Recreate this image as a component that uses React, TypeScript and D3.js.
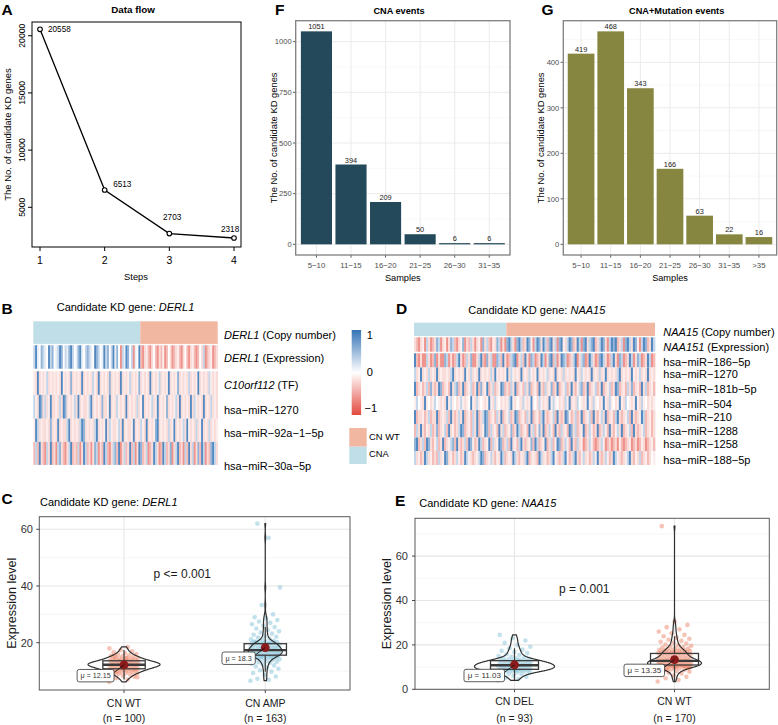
import React from 'react';
import * as d3 from 'd3';

const FONT = "'Liberation Sans', Arial, Helvetica, sans-serif";

// ---------------- Panel A data ----------------
const steps = [1, 2, 3, 4];
const candidateCounts = [20558, 6513, 2703, 2318];
const stepTicks = [1, 2, 3, 4];
const countTicks = [5000, 10000, 15000, 20000];

// ---------------- Panel F / G data ----------------
const cnaBins = ['5−10', '11−15', '16−20', '21−25', '26−30', '31−35'];
const cnaCounts = [1051, 394, 209, 50, 6, 6];
const cnaTicks = [0, 250, 500, 750, 1000];
const mutBins = ['5−10', '11−15', '16−20', '21−25', '26−30', '31−35', '>35'];
const mutCounts = [419, 468, 343, 166, 63, 22, 16];
const mutTicks = [0, 100, 200, 300, 400];

// ---------------- Heatmap data (coded: B strong blue ... R strong red) ----------------
const codeVal: Record<string, number> = { S: -0.85, R: -0.6, r: -0.38, p: -0.2, q: -0.1, '.': 0, d: 0.12, c: 0.3, b: 0.55, B: 0.85 };

const derl1Groups = { cna: 58, wt: 42 };
const derl1Rows = [
  { gene: 'DERL1', rest: ' (Expression)', codes: 'cBd.bcd.Bcb.dcBb.cdbBc.dbBd.cbcd.Bbc.dBcb.cBdb.RcdBb.cRd.B' + 'rRpqrRp.rRprqRr.pRrpqrRp.rRpqrRr.pcRrpqRrp' },
  { gene: 'C10orf112', rest: ' (TF)', codes: 'qpBpqpqcpqpqpqpBqpqpbpqpqpBpqpqpcqpBpqpqpbpqpqpBpqpqcpqpqbpqpqpBpqpqcpqpqBpqpqbpqpqpcpqpqBpqpqpcqpqp' },
  { gene: '', rest: 'hsa−miR−1270', codes: 'cqpBbpcpqBppqpcpBbpqpqcpBpqppqcBpqpqpbppqBpqpcqpqpBpqpqpcpqBpqpqcpqBpqpqbpqpqcpBpqpqpBpcqpqpBpqpcpqp' },
  { gene: '', rest: 'hsa−miR−92a−1−5p', codes: 'qBcpqppqpbpqpBpqppcBpqpqpcBbpqpqpcBpqpqBpcqppqcpBpqppqBpqpcqpBpqpqbBpqpqpcpqBpqpqcpBqpqpcpqBpqpcpqpq' },
  { gene: '', rest: 'hsa−miR−30a−5p', codes: 'rcrBprRcpBrpRcbprRpcBrprcRpBcrpRpbcRprBcrRpcbrBRpcrpBrcRpBbrpcRrpBcpRrBcrpbRpcBrpRcrBpcRpbrBcRprbBcp' },
];

const naa15Groups = { del: 46, wt: 74 };
const naa15Rows = [
  { gene: 'NAA151', rest: ' (Expression)', codes: 'prRpqRcpRrpbcRpqRpbcrRpqbRprcpRpqRbpcrRqpbcRpR' + 'bBcpRbBcrpBbqRcBbpBcrbBpcRbBqpcBbrpBcRbBpcbBrpcBbpRcBbBrpcRbBcpBbqRcBbrpBc' },
  { gene: '', rest: 'hsa−miR−186−5p', codes: 'BrRpRRcpRrbRpRRbcRpRrcBpRrcpbRRpcBrRbpcRRbcrBpRrcbBRpcrBpRbcRrpBcRpbBrcRpBbcRrpcBRpcbRrBcpRrbBcpRrcBpRbcRrpBcRpbcRrpBcRr' },
  { gene: '', rest: 'hsa−miR−1270', codes: 'cpqBpqpcpqpBpqppqpcBpqpqpBqpcpqpBpqpqpcpBqpqpqBpcqpqpBpqpcqpqBpqpqcpqpBpqpcpqpqpBqpcqpqpBpqpcpqBpqpqpcBpqpqpBqpqcpqpBpqp' },
  { gene: '', rest: 'hsa−miR−181b−5p', codes: 'BrpqrpcrbprpBbrpqrBpcbrpBrpqcrpBrbpqBrpcrpqBbrprcpBrpqrcpbrpqrBprcpqbrpBrpqcrpBprqcbrpBrpqcrpBrpqcrpBbrpqrcpbrpqrBpcrpqr' },
  { gene: '', rest: 'hsa−miR−504', codes: 'qc.qpBq.pqc.qpqpBqcq.pqcqpq.Bqpcq.qpqBqpcq.pqpqcBqp.qpcqpqBq.pcqpqpBqcq.pqpcqBpqpc.qpqBqpcq.pqBqpcq.pqBqpc.qpqBqpcq.pqpq' },
  { gene: '', rest: 'hsa−miR−210', codes: 'BrppqrpcrppBrpqpcrBprpcpBrpqrcpBrpcBbrpqrcpBrpqcrpBbrpqrcpBrpqrcBprpqcrBprpBbqrpcrpBrpqcrBprqcpBrpqrcBprpqcrBprpqBcrpqrp' },
  { gene: '', rest: 'hsa−miR−1288', codes: 'rcpBprqpcrpbrpqcrBpqrpcBbrpqrcpBrpqBbrcpqrBpcrpqbrpBcrpqrBpcrqbpBrpcqrBprcpqrBbpcrpqBrpcqrpBrpcqrBprqcpBrpqcrBprpqcrpqrp' },
  { gene: '', rest: 'hsa−miR−1258', codes: 'bBrpcrBbprqcrpBrpqcbrBprpcrBbqrpBcrpqBrcpqBbrpcrBpqrcBprpqbrBcrpqBrpcrqBbrpcqrBprcpqRrpcqrRrpcqRrpRrpRqrRrpqRrpRrqpRrpqr' },
  { gene: '', rest: 'hsa−miR−188−5p', codes: 'cpqrpBcpqrprcpqBbpqrpcqrpBcqprpqcBbrpqcprqpBcrpqpBcprqpcBrpqprBcpqrpcBqprpcBqrpcBprqcpqrpcqBprpcqrpBcqprpqcBprqpcrpqrp.q' },
];

// ---------------- Violin data (expression levels) ----------------
const derl1WT = [6.2, 7.0, 7.5, 8.0, 8.3, 8.6, 8.8, 9.0, 9.2, 9.3, 9.5, 9.6, 9.8, 9.9, 10.0, 10.1, 10.2, 10.3, 10.4, 10.5, 10.6, 10.7, 10.8, 10.9, 11.0, 11.0, 11.1, 11.2, 11.3, 11.3, 11.4, 11.5, 11.5, 11.6, 11.7, 11.7, 11.8, 11.8, 11.9, 12.0, 12.0, 12.1, 12.1, 12.2, 12.2, 12.3, 12.3, 12.4, 12.4, 12.5, 12.5, 12.6, 12.6, 12.7, 12.7, 12.8, 12.9, 12.9, 13.0, 13.0, 13.1, 13.2, 13.2, 13.3, 13.4, 13.5, 13.5, 13.6, 13.7, 13.8, 13.9, 14.0, 14.1, 14.2, 14.3, 14.4, 14.5, 14.7, 14.9, 15.0, 15.2, 15.4, 15.6, 15.8, 16.0, 16.3, 16.6, 17.0, 17.4, 18.0, 18.5, 9.4, 10.8, 11.6, 12.2, 12.8, 13.4, 7.8, 14.6, 15.1];
const derl1AMP = [6.6, 6.9, 7.3, 8.1, 8.7, 9.3, 9.8, 10.3, 10.8, 11.2, 11.6, 12.0, 12.3, 12.6, 12.9, 13.1, 13.3, 13.5, 13.7, 13.9, 14.1, 14.2, 14.4, 14.5, 14.7, 14.8, 14.9,
  15.0, 15.1, 15.2, 15.3, 15.4, 15.5, 15.5, 15.6, 15.7, 15.8, 15.9, 16.0, 16.0, 16.1, 16.2, 16.3, 16.4, 16.5, 16.5, 16.6, 16.7, 16.8, 16.9, 17.0, 17.0, 17.1, 17.2, 17.3, 17.4, 17.5, 17.5, 17.6, 17.7, 17.7, 15.3, 15.8, 16.2, 16.6, 17.1, 17.4, 15.6, 16.9, 17.3, 16.4, 15.9, 17.6, 16.1, 17.2, 15.1, 16.7, 17.0, 16.3, 15.7, 17.5,
  17.8, 17.9, 18.0, 18.1, 18.2, 18.3, 18.4, 18.5, 18.6, 18.7, 18.8, 18.9, 19.0, 19.1, 19.2, 19.3, 19.4, 19.5, 19.6, 19.7, 19.8, 19.9, 20.0, 20.1, 20.2, 20.3, 20.4, 18.0, 18.5, 19.0, 19.5, 20.0, 18.2, 18.8, 19.3, 19.8, 17.9, 18.6, 19.2, 20.2,
  20.6, 20.9, 21.2, 21.5, 21.8, 22.1, 22.4, 22.8, 23.2, 23.6, 24.0, 24.5, 25.0, 25.5, 26.0, 26.5, 27.0, 27.5, 28.0, 28.6, 29.0, 30.0, 33.3, 39.5, 57.0, 62.0];
const naa15DEL = [4.0, 4.6, 5.2, 5.7, 6.1, 6.5, 6.8, 7.1, 7.4, 7.6, 7.8, 8.0, 8.2, 8.3, 8.4, 8.5, 8.6, 8.7, 8.8, 8.9, 9.0, 9.1, 9.2, 9.3, 9.4, 9.5, 9.6, 9.7, 9.8, 9.9, 10.0, 10.1, 10.2, 10.3, 10.4, 10.5, 10.5, 10.6, 10.7, 10.8, 10.9, 11.0, 11.1, 11.2, 11.3, 11.4, 11.5, 11.6, 11.7, 11.8, 11.9, 12.0, 12.1, 12.2, 12.3, 12.4, 12.5, 12.6, 12.7, 12.8, 13.0, 13.2, 13.4, 13.6, 13.8, 14.0, 14.3, 14.6, 15.0, 15.4, 15.8, 16.3, 16.8, 17.3, 17.9, 18.5, 19.2, 20.0, 21.0, 22.0, 23.0, 24.5, 9.0, 10.0, 11.0, 8.6, 9.6, 10.8, 12.2, 7.9, 13.1];
const naa15WT = [3.5, 4.2, 5.0, 5.6, 6.2, 6.7, 7.1, 7.5, 7.9, 8.2, 8.5, 8.8, 9.0, 9.2, 9.4, 9.6, 9.8, 10.0, 10.2, 10.4, 10.6, 10.7, 10.8, 10.9, 11.0, 11.1, 11.2, 11.3, 9.1, 9.5, 9.9, 10.3, 10.5, 10.8, 11.0, 11.2, 8.7, 9.7, 10.1, 10.6, 11.1, 10.9,
  10.4, 10.5, 10.6, 10.7, 10.8, 10.9, 11.0, 11.1, 11.2, 11.3, 11.4, 11.5, 11.6, 11.7, 11.8, 11.9, 12.0, 12.1, 12.2, 12.3, 12.4, 12.5, 12.6, 12.7, 12.8, 12.9, 13.0, 13.1, 13.2, 11.25, 11.45, 11.65, 11.85, 12.05, 12.25, 12.45, 12.65, 12.85, 11.55, 11.95, 12.35, 12.75, 13.05,
  12.5, 12.6, 12.7, 12.8, 12.9, 13.0, 13.1, 13.2, 13.3, 13.4, 13.5, 13.6, 13.7, 13.8, 13.9, 14.0, 14.1, 14.2, 14.3, 14.4, 14.5, 14.6, 14.7, 14.8, 14.9, 15.0, 15.1, 15.2, 15.3, 15.4, 15.5, 15.6, 15.7, 15.8, 15.9, 16.0, 16.1, 16.2, 16.3, 16.4, 16.5, 16.7,
  16.8, 16.9, 17.0, 17.1, 17.2, 17.3, 17.4, 17.5, 17.6, 17.8, 18.0, 18.2, 18.4, 18.6, 18.8, 19.0, 19.3, 19.6, 19.9, 20.2, 20.6, 21.0, 21.4, 21.8, 22.3, 22.8, 23.3, 23.9, 24.5, 25.2, 26.0, 27.0, 28.0, 29.0, 30.5, 73.5];
const derl1Means = [12.15, 18.3];
const naa15Means = [11.03, 13.35];

// ---------------- colours ----------------
const BLUE_HEAT = '#3574B6';
const RED_HEAT = '#E2493E';
const ANNO_CNA = '#BFDEE8';
const ANNO_WT = '#F2B7A1';
const PT_WT = '#EE8A6E';
const PT_CNA = '#86C3DA';
const heatColor = d3.scaleLinear<string>().domain([-1, 0, 1]).range([RED_HEAT, '#FFFFFF', BLUE_HEAT]);

// ---------------- Panel A ----------------
function PanelA() {
  const L = 32, R = 241, T = 22, B = 247;
  const x = d3.scaleLinear().domain([1, 4]).range([40, 234]);
  const y = d3.scaleLinear().domain([1530, 21200]).range([B, T]);
  const line = d3.line<number>().x((_, i) => x(steps[i])).y(d => y(d));
  const labelOff = [[8, 3], [8.5, -3], [-6.3, -13.6], [-13, -6]];
  return (
    <g>
      <text x={1.5} y={14.5} fontSize={15.5} fontWeight="bold">A</text>
      <text x={133} y={12.5} fontSize={9.8} fontWeight="bold" textAnchor="middle">Data flow</text>
      <rect x={L} y={T} width={R - L} height={B - T} fill="none" stroke="#000" strokeWidth={1} />
      <path d={line(candidateCounts) || ''} fill="none" stroke="#000" strokeWidth={1.3} />
      {candidateCounts.map((v, i) => (
        <g key={i}>
          <circle cx={x(steps[i])} cy={y(v)} r={2.3} fill="#fff" stroke="#000" strokeWidth={1.1} />
          <text x={x(steps[i]) + labelOff[i][0]} y={y(v) + labelOff[i][1]} fontSize={8.2}>{v}</text>
        </g>
      ))}
      {stepTicks.map(t => (
        <g key={t}>
          <line x1={x(t)} x2={x(t)} y1={B} y2={B + 4} stroke="#000" />
          <text x={x(t)} y={264} fontSize={10.5} textAnchor="middle">{t}</text>
        </g>
      ))}
      {countTicks.map(t => (
        <g key={t}>
          <line x1={L} x2={L - 4} y1={y(t)} y2={y(t)} stroke="#000" />
          <text transform={`translate(25,${y(t)}) rotate(-90)`} fontSize={8.6} textAnchor="middle">{t}</text>
        </g>
      ))}
      <text x={136} y={280} fontSize={9.3} textAnchor="middle">Steps</text>
      <text transform={`translate(11,${(T + B) / 2}) rotate(-90)`} fontSize={9.5} textAnchor="middle">The No. of candidate KD genes</text>
    </g>
  );
}

// ---------------- Bar panels ----------------
function BarPanel(props: { letter: string; letterX: number; title: string; titleX: number; bins: string[]; counts: number[]; ticks: number[]; L: number; R: number; fill: string; ylabX: number }) {
  const { bins, counts, ticks, L, R } = props;
  const T = 20.7, B = 255;
  const maxV = d3.max(counts) as number;
  const y = d3.scaleLinear().domain([-0.05 * maxV, 1.05 * maxV]).range([B, T]);
  const x = d3.scalePoint<string>().domain(bins).range([L, R]).padding(0.6);
  const bw = x.step() * 0.9;
  const minor = ticks.slice(0, -1).map((t, i) => (t + ticks[i + 1]) / 2).concat([ticks[ticks.length - 1] + (ticks[1] - ticks[0]) / 2]).filter(v => y(v) > T);
  return (
    <g>
      <text x={props.letterX} y={14.5} fontSize={15.5} fontWeight="bold">{props.letter}</text>
      <text x={props.titleX} y={14} fontSize={9.2} fontWeight="bold" textAnchor="middle">{props.title}</text>
      {minor.map(t => <line key={'m' + t} x1={L} x2={R} y1={y(t)} y2={y(t)} stroke="#F3F3F3" strokeWidth={0.6} />)}
      {ticks.map(t => <line key={'g' + t} x1={L} x2={R} y1={y(t)} y2={y(t)} stroke="#EBEBEB" strokeWidth={1} />)}
      {bins.map(b => <line key={'v' + b} x1={x(b)} x2={x(b)} y1={T} y2={B} stroke="#EBEBEB" strokeWidth={1} />)}
      {bins.map((b, i) => (
        <g key={b}>
          <rect x={(x(b) as number) - bw / 2} y={y(counts[i])} width={bw} height={y(0) - y(counts[i])} fill={props.fill} />
          <text x={x(b)} y={y(counts[i]) - 2} fontSize={7.4} textAnchor="middle" fill="#222">{counts[i]}</text>
          <line x1={x(b)} x2={x(b)} y1={B} y2={B + 2.7} stroke="#333" strokeWidth={0.8} />
          <text x={x(b)} y={268} fontSize={7.8} textAnchor="middle" fill="#4D4D4D">{b}</text>
        </g>
      ))}
      {ticks.map(t => (
        <g key={t}>
          <line x1={L - 2.7} x2={L} y1={y(t)} y2={y(t)} stroke="#333" strokeWidth={0.8} />
          <text x={L - 4} y={y(t) + 2.7} fontSize={7.6} textAnchor="end" fill="#4D4D4D">{t}</text>
        </g>
      ))}
      <rect x={L} y={T} width={R - L} height={B - T} fill="none" stroke="#7F7F7F" strokeWidth={1.3} />
      <text x={(L + R) / 2} y={280.5} fontSize={9.2} textAnchor="middle">Samples</text>
      <text transform={`translate(${props.ylabX},${(T + B) / 2}) rotate(-90)`} fontSize={9.4} textAnchor="middle">The No. of candidate KD genes</text>
    </g>
  );
}

// ---------------- Heatmaps ----------------
type HRow = { gene: string; rest: string; codes: string };
function HeatRows({ rows, x0, x1, ys, labelX, labelYs, fs }: { rows: HRow[]; x0: number; x1: number; ys: [number, number][]; labelX: number; labelYs: number[]; fs: number }) {
  return (
    <g>
      {rows.map((r, ri) => {
        const n = r.codes.length;
        const xs = d3.scaleLinear().domain([0, n]).range([x0, x1]);
        const [ya, yb] = ys[ri];
        return (
          <g key={ri}>
            {r.codes.split('').map((c, ci) => (
              <rect key={ci} x={xs(ci)} y={ya} width={xs(ci + 1) - xs(ci) + 0.35} height={yb - ya} fill={heatColor(codeVal[c] ?? 0)} />
            ))}
            <text x={labelX} y={labelYs[ri] + fs * 0.36} fontSize={fs}>
              {r.gene && <tspan fontStyle="italic">{r.gene}</tspan>}
              <tspan>{r.rest}</tspan>
            </text>
          </g>
        );
      })}
    </g>
  );
}

function HeatB() {
  const x0 = 33.3, x1 = 217.7;
  const tot = derl1Groups.cna + derl1Groups.wt;
  const split = x0 + (x1 - x0) * derl1Groups.cna / tot;
  const ys: [number, number][] = [[345.3, 368.7], [371.3, 394.9], [394.9, 418.7], [418.7, 441.9], [441.9, 464.9]];
  const legScale = d3.scaleLinear().domain([-1, 1]).range([408.3, 335]);
  return (
    <g>
      <text x={1.5} y={314} fontSize={15.5} fontWeight="bold">B</text>
      <text x={56.7} y={311.3} fontSize={11}><tspan>Candidate KD gene: </tspan><tspan fontStyle="italic">DERL1</tspan></text>
      <rect x={x0} y={321.3} width={split - x0} height={22.6} fill={ANNO_CNA} />
      <rect x={split} y={321.3} width={x1 - split} height={22.6} fill={ANNO_WT} />
      <text x={224} y={335 + 4} fontSize={11}><tspan fontStyle="italic">DERL1</tspan><tspan> (Copy number)</tspan></text>
      <HeatRows rows={derl1Rows} x0={x0} x1={x1} ys={ys} labelX={224} labelYs={[358.3, 385, 410, 433.3, 465.7]} fs={11} />
      <defs>
        <linearGradient id="legGrad" x1="0" y1="0" x2="0" y2="1">
          <stop offset="0" stopColor={BLUE_HEAT} />
          <stop offset="0.5" stopColor="#FFFFFF" />
          <stop offset="1" stopColor={RED_HEAT} />
        </linearGradient>
      </defs>
      <rect x={351.7} y={330} width={9.4} height={85} fill="url(#legGrad)" />
      {[1, 0, -1].map(v => (
        <text key={v} x={v < 0 ? 364.5 : 366.7} y={legScale(v) + 4} fontSize={11}>{v < 0 ? '−1' : String(v)}</text>
      ))}
      <rect x={349.3} y={428} width={17.4} height={18.7} fill={ANNO_WT} />
      <rect x={349.3} y={446.7} width={17.4} height={17.3} fill={ANNO_CNA} />
      <text x={369} y={440.3} fontSize={9.4}>CN WT</text>
      <text x={369} y={456.8} fontSize={9.4}>CNA</text>
    </g>
  );
}

function HeatD() {
  const x0 = 414, x1 = 655;
  const tot = naa15Groups.del + naa15Groups.wt;
  const split = x0 + (x1 - x0) * naa15Groups.del / tot;
  const ys: [number, number][] = [[337.3, 351.7], [353.3, 367.5], [367.5, 381.8], [381.8, 396.1], [396.1, 410.1], [410.1, 424], [424, 437.5], [437.5, 451], [451, 465]];
  return (
    <g>
      <text x={396} y={314} fontSize={15.5} fontWeight="bold">D</text>
      <text x={468.3} y={314} fontSize={11}><tspan>Candidate KD gene: </tspan><tspan fontStyle="italic">NAA15</tspan></text>
      <rect x={x0} y={322.7} width={split - x0} height={13.3} fill={ANNO_CNA} />
      <rect x={split} y={322.7} width={x1 - split} height={13.3} fill={ANNO_WT} />
      <text x={663.3} y={331.7 + 4} fontSize={11}><tspan fontStyle="italic">NAA15</tspan><tspan> (Copy number)</tspan></text>
      <HeatRows rows={naa15Rows} x0={x0} x1={x1} ys={ys} labelX={663.3} labelYs={[346.7, 361.7, 374, 389.3, 404, 417.3, 430.7, 444, 460]} fs={11} />
    </g>
  );
}

// ---------------- Violin panels ----------------
function stats(vals: number[]) {
  const s = vals.slice().sort(d3.ascending);
  const q1 = d3.quantileSorted(s, 0.25) as number;
  const med = d3.quantileSorted(s, 0.5) as number;
  const q3 = d3.quantileSorted(s, 0.75) as number;
  const iqr = q3 - q1;
  const lo = s.find(v => v >= q1 - 1.5 * iqr) as number;
  const hi = s.slice().reverse().find(v => v <= q3 + 1.5 * iqr) as number;
  const sd = d3.deviation(s) as number;
  const bw = 0.9 * Math.min(sd, iqr / 1.34) * Math.pow(s.length, -0.2);
  const N = 256;
  const mn = s[0], mx = s[s.length - 1];
  const grid = d3.range(N + 1).map(i => mn + (mx - mn) * i / N);
  const dens = grid.map(g => (d3.mean(s, v => Math.exp(-0.5 * ((g - v) / bw) ** 2)) as number) / (bw * Math.sqrt(2 * Math.PI)));
  return { q1, med, q3, lo, hi, grid, dens };
}

type VGroup = { name: string; n: number; values: number[]; mean: number; color: string; hw: number };
function ViolinPanel(p: {
  letter: string; letterX: number; letterY: number; gene: string; titleX: number; titleY: number;
  L: number; R: number; T: number; B: number; xr: [number, number]; domain: [number, number];
  ticks: number[]; minor: number[]; groups: VGroup[]; pText: string; pX: number; pY: number;
  ylabX: number; tickLabR: number; labFs: number; catY1: number; catY2: number;
}) {
  const { L, R, T, B } = p;
  const y = d3.scaleLinear().domain(p.domain).range([B, T]);
  const x = d3.scalePoint<string>().domain(p.groups.map(g => g.name)).range(p.xr).padding(0.6);
  const step = x.step();
  const st = p.groups.map(g => stats(g.values));
  const jit = 0.105 * step;
  const boxW = 0.15 * step;
  return (
    <g>
      <text x={p.letterX} y={p.letterY} fontSize={15.5} fontWeight="bold">{p.letter}</text>
      <text x={p.titleX} y={p.titleY} fontSize={11}><tspan>Candidate KD gene: </tspan><tspan fontStyle="italic">{p.gene}</tspan></text>
      {p.minor.map(t => <line key={'m' + t} x1={L} x2={R} y1={y(t)} y2={y(t)} stroke="#F0F0F0" strokeWidth={0.7} />)}
      {p.ticks.map(t => <line key={'g' + t} x1={L} x2={R} y1={y(t)} y2={y(t)} stroke="#E6E6E6" strokeWidth={1.1} />)}
      {p.groups.map(g => <line key={'v' + g.name} x1={x(g.name)} x2={x(g.name)} y1={T} y2={B} stroke="#E6E6E6" strokeWidth={1.1} />)}
      {p.groups.map((g, gi) => {
        const cx = x(g.name) as number;
        const s = st[gi];
        const maxD = d3.max(s.dens) as number;
        const area = d3.area<number>()
          .y((_, i) => y(s.grid[i]))
          .x0(d => cx - d / maxD * g.hw)
          .x1(d => cx + d / maxD * g.hw)
          .curve(d3.curveLinear);
        const my = y(g.mean);
        const lab = `μ = ${g.mean}`;
        const lw = lab.length * p.labFs * 0.5 + 4.5;
        const lh = 12.4;
        const rx = cx - 10;
        const ty = my + 4.5;
        return (
          <g key={g.name}>
            {g.values.map((v, i) => (
              <circle key={i} cx={cx + (((i * 0.6180339887) % 1) - 0.5) * 2 * jit} cy={y(v)} r={2.3} fill={g.color} fillOpacity={0.5} />
            ))}
            <line x1={cx} x2={cx} y1={y(s.hi)} y2={y(s.q3)} stroke="#3A3A3A" strokeWidth={1.2} />
            <line x1={cx} x2={cx} y1={y(s.q1)} y2={y(s.lo)} stroke="#3A3A3A" strokeWidth={1.2} />
            <rect x={cx - boxW} y={y(s.q3)} width={2 * boxW} height={y(s.q1) - y(s.q3)} fill="#fff" fillOpacity={0.25} stroke="#3A3A3A" strokeWidth={1.3} />
            <line x1={cx - boxW} x2={cx + boxW} y1={y(s.med)} y2={y(s.med)} stroke="#3A3A3A" strokeWidth={2.4} />
            <path d={area(s.dens) || ''} fill="none" stroke="#2F2F2F" strokeWidth={1.2} />
            <circle cx={cx} cy={my} r={4.4} fill="#8B1A1A" />
            <line x1={rx} y1={ty + 3} x2={cx} y2={my} stroke="#111" strokeWidth={0.9} />
            <rect x={rx - lw} y={ty} width={lw} height={lh} rx={2} fill="#fff" stroke="#333" strokeWidth={0.8} />
            <text x={rx - lw / 2} y={ty + lh / 2 + p.labFs * 0.36} fontSize={p.labFs} textAnchor="middle" fill="#333">{lab}</text>
            <line x1={cx} x2={cx} y1={B} y2={B + 3} stroke="#333" strokeWidth={0.9} />
            <text x={cx} y={p.catY1} fontSize={10.5} textAnchor="middle" fill="#1A1A1A">{g.name}</text>
            <text x={cx} y={p.catY2} fontSize={10.5} textAnchor="middle" fill="#1A1A1A">{`(n = ${g.n})`}</text>
          </g>
        );
      })}
      <rect x={L} y={T} width={R - L} height={B - T} fill="none" stroke="#595959" strokeWidth={1} />
      {p.ticks.map(t => (
        <g key={t}>
          <line x1={L - 3} x2={L} y1={y(t)} y2={y(t)} stroke="#333" strokeWidth={0.9} />
          <text x={p.tickLabR} y={y(t) + 3.8} fontSize={11} textAnchor="end" fill="#333">{t}</text>
        </g>
      ))}
      <text x={p.pX} y={p.pY} fontSize={12} textAnchor="middle" fill="#1A1A1A">{p.pText}</text>
      <text transform={`translate(${p.ylabX},${(T + B) / 2}) rotate(-90)`} fontSize={12.5} textAnchor="middle" fill="#1A1A1A">Expression level</text>
    </g>
  );
}

export default function App() {
  return (
    <div style={{ position: 'absolute', left: 0, top: 0, width: 778, height: 725, background: '#fff' }}>
      <svg width={778} height={725} style={{ display: 'block', fontFamily: FONT }}>
        <rect width={778} height={725} fill="#fff" />
        <PanelA />
        <BarPanel letter="F" letterX={275} title="CNA events" titleX={399} bins={cnaBins} counts={cnaCounts} ticks={cnaTicks} L={295.7} R={510} fill="#23495A" ylabX={276.5} />
        <BarPanel letter="G" letterX={541.5} title="CNA+Mutation events" titleX={676.7} bins={mutBins} counts={mutCounts} ticks={mutTicks} L={563.3} R={776.7} fill="#878641" ylabX={543.5} />
        <HeatB />
        <HeatD />
        <ViolinPanel letter="C" letterX={1.5} letterY={504} gene="DERL1" titleX={40} titleY={505.5}
          L={39.3} R={350} T={516.7} B={690} xr={[39.3, 350]} domain={[3.32, 64.44]}
          ticks={[20, 40, 60]} minor={[10, 30, 50]}
          groups={[
            { name: 'CN WT', n: 100, values: derl1WT, mean: derl1Means[0], color: PT_WT, hw: 36 },
            { name: 'CN AMP', n: 163, values: derl1AMP, mean: derl1Means[1], color: PT_CNA, hw: 17 },
          ]}
          pText="p <= 0.001" pX={182.3} pY={578.2} ylabX={16} tickLabR={33} labFs={7.2} catY1={707} catY2={722} />
        <ViolinPanel letter="E" letterX={395} letterY={505.5} gene="NAA15" titleX={419.3} titleY={507.3}
          L={415} R={769.3} T={518.3} B={689.3} xr={[418.5, 770.5]} domain={[0, 77.03]}
          ticks={[0, 20, 40, 60]} minor={[10, 30, 50, 70]}
          groups={[
            { name: 'CN DEL', n: 93, values: naa15DEL, mean: naa15Means[0], color: PT_CNA, hw: 40 },
            { name: 'CN WT', n: 170, values: naa15WT, mean: naa15Means[1], color: PT_WT, hw: 27 },
          ]}
          pText="p = 0.001" pX={584.3} pY={592.5} ylabX={390.5} tickLabR={408} labFs={8} catY1={704.5} catY2={722} />
      </svg>
    </div>
  );
}
